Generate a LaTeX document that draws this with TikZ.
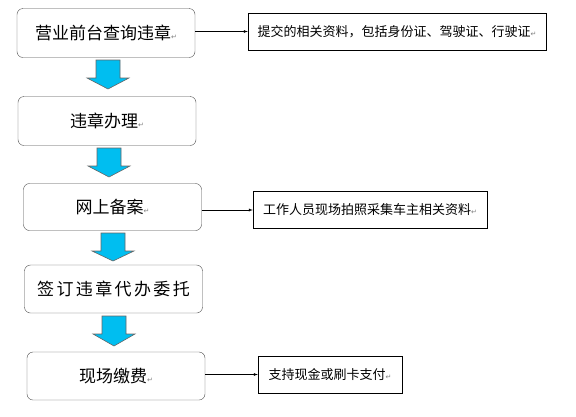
\documentclass[tikz,border=0pt]{standalone}
\usepackage{fontspec}
\setmainfont{Noto Sans CJK SC}
\newfontfamily\cjkwide[LetterSpace=14]{Noto Sans CJK SC}
\newfontfamily\symfont{DejaVu Sans}
\newcommand{\pmark}{{\symfont\color{gray}\fontsize{7}{7}\selectfont ↵}}
\begin{document}
\begin{tikzpicture}[x=1pt, y=-1pt,
    stepbox/.style={draw=black!70, rounded corners=6pt, minimum width=178pt, minimum height=49pt, inner sep=0pt, font=\fontsize{17}{17}\selectfont},
    notebox/.style={draw=black, minimum height=37pt, inner sep=0pt, font=\fontsize{13}{13}\selectfont},
    flowarrow/.style={fill=arrowblue, draw=black!60, line width=0.6pt}]
            % Define colors
            \definecolor{arrowblue}{RGB}{0, 190, 240}

            \useasboundingbox (0, 0) rectangle (576, 416);

            % Draw step boxes
            \node[stepbox] (query) at (106, 33) {营业前台查询违章\pmark};
            \node[stepbox] (handle) at (107, 121) {违章办理\pmark};
            \node[stepbox, minimum height=47pt] (record) at (112.5, 207) {网上备案\pmark};
            \node[stepbox, minimum height=48pt] (entrust) at (113.5, 289) {\cjkwide 签订违章代办委托};
            \node[stepbox, minimum height=48pt] (pay) at (116, 376) {现场缴费\pmark};

            % Draw note boxes
            \node[notebox, minimum width=298pt] (docs) at (397, 31.5) {提交的相关资料，包括身份证、驾驶证、行驶证\pmark};
            \node[notebox, minimum width=234pt] (photo) at (370, 210) {工作人员现场拍照采集车主相关资料\pmark};
            \node[notebox, minimum width=144pt] (cash) at (330, 374.5) {支持现金或刷卡支付\pmark};

            % Draw side arrows
            \draw[-latex] (query.east |- docs) -- (docs.west);
            \draw[-latex] (record.east |- photo) -- (photo.west);
            \draw[-latex] (pay.east |- cash) -- (cash.west);

            % Draw blue arrows
            \foreach \top/\tip/\cx in {60/89/108, 148/177/109, 233/261/113, 316/346/114}
                \draw[flowarrow] (\cx-12, \top) -- (\cx+12, \top) -- (\cx+12, \top+18)
                    -- (\cx+21, \top+18) -- (\cx, \tip) -- (\cx-21, \top+18)
                    -- (\cx-12, \top+18) -- cycle;
        \end{tikzpicture}
\end{document}
